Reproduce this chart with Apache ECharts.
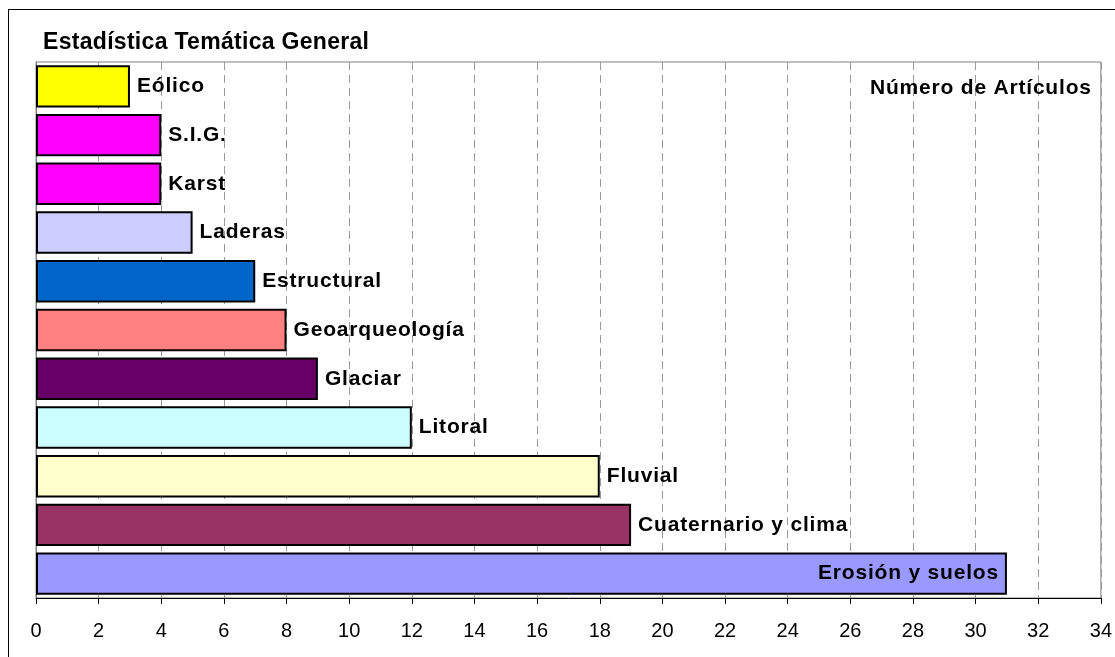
<!DOCTYPE html>
<html><head><meta charset="utf-8">
<script src="https://cdn.jsdelivr.net/npm/echarts@6/dist/echarts.min.js"></script>
<style>html,body{margin:0;padding:0;background:#fff;}#frame{position:absolute;left:8px;top:9px;width:1200px;height:700px;border:1px solid #000;box-sizing:border-box;}#c{position:absolute;left:0;top:0;width:1115px;height:657px;}</style>
</head><body>
<div id="frame"></div>
<div id="c"></div>
<script>
// slight letter spacing for bold texts (Excel-like rendering)
(function(){
  try {
    var P = CanvasRenderingContext2D.prototype;
    var d = Object.getOwnPropertyDescriptor(P, 'font');
    if (d && d.set && ('letterSpacing' in P)) {
      Object.defineProperty(P, 'font', {configurable:true, get:function(){return d.get.call(this);},
        set:function(v){ d.set.call(this, v);
          this.letterSpacing = /bold/.test(v) ? (/23px/.test(v) ? '0.3px' : '0.8px') : '0px'; }});
    }
  } catch(e) {}
})();
var categories = ['Eólico','S.I.G.','Karst','Laderas','Estructural','Geoarqueología','Glaciar','Litoral','Fluvial','Cuaternario y clima','Erosión y suelos'];
var values = [3,4,4,5,7,8,9,12,18,19,31];
var colors = ['#FFFF00','#FF00FF','#FF00FF','#CCCCFF','#0066CC','#FF8080','#660066','#CCFFFF','#FFFFCC','#993366','#9999FF'];
var xTicks = {min:0, max:34, interval:2};
var chart = echarts.init(document.getElementById('c'));
var data = values.map(function(v,i){
  var d = {value:v, itemStyle:{color:colors[i]}};
  if (i === values.length-1) d.label = {position:'insideRight', distance:8};
  return d;
});
chart.setOption({
  animation:false,
  title:[{text:'Estadística Temática General', left:38, top:26, textStyle:{fontFamily:'Liberation Sans, Arial', fontWeight:'bold', fontSize:23, color:'#000'}},
         {text:'Número de Artículos', left:865, top:72, textStyle:{fontFamily:'Liberation Sans, Arial', fontWeight:'bold', fontSize:21, color:'#000'}}],
  grid:{left:36, top:62, right:9.5, bottom:59, containLabel:false, show:true, borderColor:'#808080', borderWidth:1, backgroundColor:'transparent'},
  xAxis:{type:'value', min:xTicks.min, max:xTicks.max, interval:xTicks.interval,
    axisLine:{show:true, lineStyle:{color:'#000', width:1}},
    axisTick:{show:true, length:6, lineStyle:{color:'#000'}},
    axisLabel:{fontFamily:'Liberation Sans, Arial', fontSize:20, color:'#000', margin:23},
    splitLine:{show:true, lineStyle:{color:'#9a9a9a', type:[8,5], width:1}}},
  yAxis:{type:'category', data:categories, inverse:true,
    axisLine:{show:true, lineStyle:{color:'#808080'}}, axisTick:{show:false}, axisLabel:{show:false}},
  series:[{type:'bar', data:data, barCategoryGap:'13%',
    itemStyle:{borderColor:'#000', borderWidth:2},
    label:{show:true, position:'right', distance:7, formatter:function(p){return categories[p.dataIndex];},
      fontFamily:'Liberation Sans, Arial', fontWeight:'bold', fontSize:21, color:'#000'}}]
});
</script>
</body></html>
